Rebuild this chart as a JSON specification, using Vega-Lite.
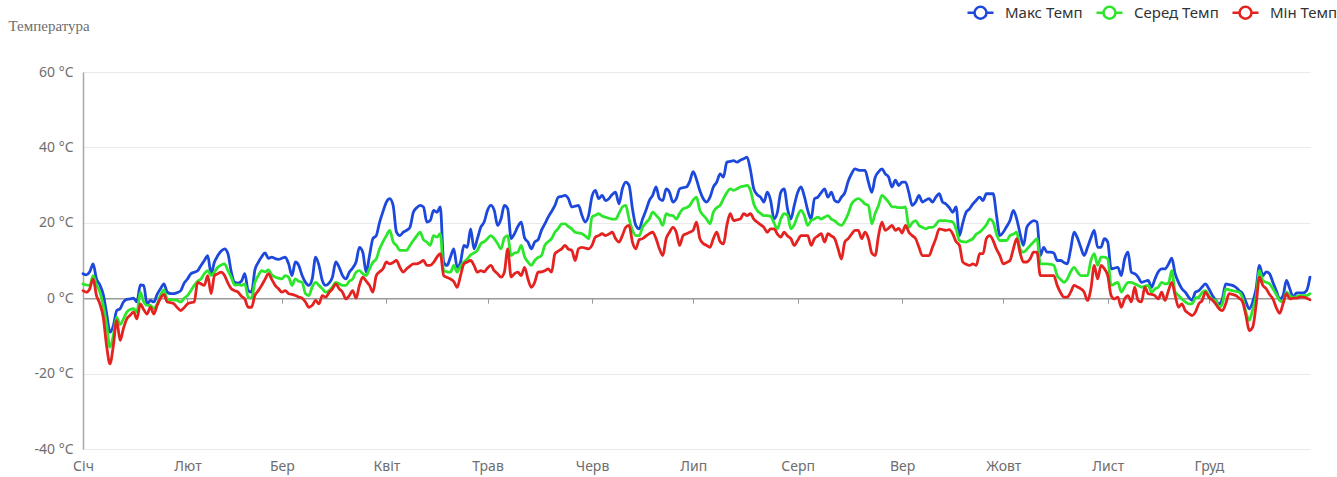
{
  "$schema": "https://vega.github.io/schema/vega-lite/v6.json",
  "width": 1227,
  "height": 377,
  "autosize": {"type": "none"},
  "padding": {"left": 83, "top": 72, "right": 27, "bottom": 28},
  "background": "#ffffff",
  "config": {
    "view": {"stroke": null},
    "font": "Noto Sans"
  },
  "data": {
    "values": [
      {"day":0,"max":6.5,"avg":3.8,"min":2},
      {"day":1,"max":6.2,"avg":3.5,"min":1.6},
      {"day":2,"max":7,"avg":3.4,"min":2.5},
      {"day":3,"max":9.1,"avg":6,"min":5.1},
      {"day":4,"max":5.1,"avg":3.5,"min":0.7},
      {"day":5,"max":3.5,"avg":1.6,"min":-1.5},
      {"day":6,"max":1,"avg":-1.9,"min":-5},
      {"day":7,"max":-4,"avg":-7,"min":-12.6},
      {"day":8,"max":-9,"avg":-13,"min":-17.4},
      {"day":9,"max":-7.3,"avg":-9.9,"min":-12.6},
      {"day":10,"max":-3.3,"avg":-5,"min":-5.9},
      {"day":11,"max":-2.8,"avg":-7,"min":-11.2},
      {"day":12,"max":-1,"avg":-5.5,"min":-8},
      {"day":13,"max":-0.3,"avg":-3.7,"min":-5.5},
      {"day":14,"max":-0.2,"avg":-3,"min":-4.5},
      {"day":15,"max":0,"avg":-2.8,"min":-3.7},
      {"day":16,"max":-1,"avg":-3.7,"min":-5.5},
      {"day":17,"max":3.5,"avg":1.6,"min":-1.5},
      {"day":18,"max":3.4,"avg":-1,"min":-3},
      {"day":19,"max":-1.5,"avg":-1.9,"min":-4.2},
      {"day":20,"max":-0.6,"avg":-1.9,"min":-2.4},
      {"day":21,"max":-1,"avg":-2.8,"min":-4.2},
      {"day":22,"max":1,"avg":-1.5,"min":-1.9},
      {"day":23,"max":2.5,"avg":0.8,"min":0},
      {"day":24,"max":3.8,"avg":2.2,"min":1},
      {"day":25,"max":1.6,"avg":-0.2,"min":-1},
      {"day":26,"max":1.2,"avg":-0.4,"min":-1.2},
      {"day":27,"max":1.2,"avg":-0.5,"min":-1.5},
      {"day":28,"max":1.5,"avg":-0.6,"min":-2.5},
      {"day":29,"max":2,"avg":-1,"min":-3.3},
      {"day":30,"max":4,"avg":0,"min":-2.5},
      {"day":31,"max":5.1,"avg":0.7,"min":-1.5},
      {"day":32,"max":6.5,"avg":2,"min":-1.2},
      {"day":33,"max":6.9,"avg":3.4,"min":-1},
      {"day":34,"max":7.3,"avg":4.5,"min":4.2},
      {"day":35,"max":8.7,"avg":5.1,"min":3.8},
      {"day":36,"max":10,"avg":6.5,"min":3.4},
      {"day":37,"max":11.3,"avg":7.3,"min":6},
      {"day":38,"max":6.5,"avg":6,"min":1.2},
      {"day":39,"max":9.6,"avg":7,"min":6},
      {"day":40,"max":11.3,"avg":8.2,"min":6.5},
      {"day":41,"max":12.5,"avg":8.8,"min":6.9},
      {"day":42,"max":13.1,"avg":9.1,"min":6},
      {"day":43,"max":11.8,"avg":7.3,"min":4},
      {"day":44,"max":6.9,"avg":5.5,"min":2.5},
      {"day":45,"max":4.2,"avg":3.5,"min":2},
      {"day":46,"max":4,"avg":3.6,"min":1.6},
      {"day":47,"max":4.5,"avg":3.4,"min":0.5},
      {"day":48,"max":6.5,"avg":3.8,"min":-0.2},
      {"day":49,"max":2,"avg":0.3,"min":-2.4},
      {"day":50,"max":1.6,"avg":0,"min":-2.4},
      {"day":51,"max":7.5,"avg":4.2,"min":0.7},
      {"day":52,"max":9.5,"avg":6,"min":2},
      {"day":53,"max":11,"avg":7.3,"min":3.4},
      {"day":54,"max":12,"avg":7,"min":5},
      {"day":55,"max":10.6,"avg":7.5,"min":6.5},
      {"day":56,"max":10.9,"avg":6.2,"min":5},
      {"day":57,"max":10.5,"avg":5.6,"min":3.4},
      {"day":58,"max":10.3,"avg":5.3,"min":2.5},
      {"day":59,"max":10.6,"avg":5.1,"min":1.6},
      {"day":60,"max":10.9,"avg":6,"min":2},
      {"day":61,"max":9.1,"avg":5.6,"min":1.2},
      {"day":62,"max":6,"avg":3.4,"min":1},
      {"day":63,"max":9.6,"avg":5.1,"min":0.7},
      {"day":64,"max":8.7,"avg":4.5,"min":0.3},
      {"day":65,"max":6,"avg":4.2,"min":0},
      {"day":66,"max":4.2,"avg":1.2,"min":-1},
      {"day":67,"max":3.4,"avg":0.7,"min":-2.4},
      {"day":68,"max":5.1,"avg":3,"min":-1.9},
      {"day":69,"max":10.9,"avg":4.2,"min":-0.6},
      {"day":70,"max":8.7,"avg":3.4,"min":-1.5},
      {"day":71,"max":4.7,"avg":2.5,"min":0.7},
      {"day":72,"max":3.4,"avg":1.6,"min":0.3},
      {"day":73,"max":4,"avg":2,"min":1.5},
      {"day":74,"max":5.6,"avg":3,"min":2.5},
      {"day":75,"max":9.6,"avg":4.2,"min":3.8},
      {"day":76,"max":8.2,"avg":3.8,"min":2.5},
      {"day":77,"max":6,"avg":3.4,"min":1.6},
      {"day":78,"max":5.1,"avg":3.4,"min":-0.2},
      {"day":79,"max":6.9,"avg":4.5,"min":0.7},
      {"day":80,"max":8,"avg":5.1,"min":2},
      {"day":81,"max":9.6,"avg":6.9,"min":0},
      {"day":82,"max":13.5,"avg":7.3,"min":3.4},
      {"day":83,"max":12.2,"avg":6.5,"min":5.6},
      {"day":84,"max":6.9,"avg":6,"min":4.5},
      {"day":85,"max":11.3,"avg":7.8,"min":3.4},
      {"day":86,"max":15.8,"avg":9.5,"min":1.6},
      {"day":87,"max":16.6,"avg":10.4,"min":6},
      {"day":88,"max":20.2,"avg":13.1,"min":7},
      {"day":89,"max":23,"avg":15,"min":7.8},
      {"day":90,"max":25.5,"avg":16.6,"min":9.6},
      {"day":91,"max":26.4,"avg":18,"min":9.1},
      {"day":92,"max":24.6,"avg":15,"min":9.5},
      {"day":93,"max":17.5,"avg":14,"min":10},
      {"day":94,"max":16.6,"avg":12.7,"min":8.2},
      {"day":95,"max":17.5,"avg":12.7,"min":6.9},
      {"day":96,"max":18,"avg":12.7,"min":7.8},
      {"day":97,"max":18.8,"avg":14,"min":8.5},
      {"day":98,"max":22.8,"avg":15.3,"min":9.1},
      {"day":99,"max":24,"avg":16.5,"min":9.1},
      {"day":100,"max":24.6,"avg":17.5,"min":9.5},
      {"day":101,"max":24.2,"avg":15.5,"min":10},
      {"day":102,"max":20.2,"avg":14.9,"min":8.7},
      {"day":103,"max":20.6,"avg":14,"min":8.7},
      {"day":104,"max":23.3,"avg":16.6,"min":9.5},
      {"day":105,"max":22.8,"avg":16.2,"min":10.9},
      {"day":106,"max":24.2,"avg":17.1,"min":11.8},
      {"day":107,"max":9.6,"avg":7.3,"min":6},
      {"day":108,"max":8.7,"avg":7,"min":5.5},
      {"day":109,"max":10.9,"avg":6.9,"min":5.1},
      {"day":110,"max":13.1,"avg":8.7,"min":4.4},
      {"day":111,"max":8.2,"avg":6.9,"min":2.9},
      {"day":112,"max":9.6,"avg":8.5,"min":6},
      {"day":113,"max":14,"avg":9.6,"min":9.1},
      {"day":114,"max":13.5,"avg":10.4,"min":9.6},
      {"day":115,"max":18.4,"avg":11.5,"min":10},
      {"day":116,"max":13.1,"avg":12,"min":8.7},
      {"day":117,"max":15.8,"avg":12.7,"min":6.9},
      {"day":118,"max":18.8,"avg":14.4,"min":7.3},
      {"day":119,"max":20.2,"avg":15,"min":7},
      {"day":120,"max":23.3,"avg":15.8,"min":8},
      {"day":121,"max":24.6,"avg":16.6,"min":8.7},
      {"day":122,"max":23.3,"avg":15.8,"min":7.3},
      {"day":123,"max":19.3,"avg":14.5,"min":6.5},
      {"day":124,"max":21,"avg":13.1,"min":5.6},
      {"day":125,"max":24.6,"avg":16,"min":6.9},
      {"day":126,"max":23.7,"avg":16.6,"min":13.1},
      {"day":127,"max":15.8,"avg":11.3,"min":5.6},
      {"day":128,"max":17.1,"avg":12,"min":6.5},
      {"day":129,"max":19,"avg":12.2,"min":6.9},
      {"day":130,"max":20.2,"avg":14,"min":6},
      {"day":131,"max":16,"avg":11,"min":8.2},
      {"day":132,"max":14.9,"avg":9.6,"min":5.1},
      {"day":133,"max":13.1,"avg":8.7,"min":2.9},
      {"day":134,"max":14.9,"avg":10,"min":4.2},
      {"day":135,"max":15.5,"avg":10.8,"min":6.9},
      {"day":136,"max":18,"avg":11.3,"min":7},
      {"day":137,"max":19.7,"avg":14,"min":7.3},
      {"day":138,"max":21.5,"avg":15,"min":7.8},
      {"day":139,"max":23,"avg":15.8,"min":6.9},
      {"day":140,"max":24.6,"avg":17.5,"min":11.8},
      {"day":141,"max":26.8,"avg":18.5,"min":12.5},
      {"day":142,"max":27,"avg":19.7,"min":13.1},
      {"day":143,"max":27.3,"avg":19.7,"min":14},
      {"day":144,"max":26.4,"avg":19,"min":13},
      {"day":145,"max":24.2,"avg":18.4,"min":12.7},
      {"day":146,"max":24.4,"avg":17.5,"min":10},
      {"day":147,"max":24.6,"avg":17.3,"min":13.1},
      {"day":148,"max":22,"avg":17.1,"min":13.5},
      {"day":149,"max":20.2,"avg":16.5,"min":13.3},
      {"day":150,"max":22,"avg":15.8,"min":13.1},
      {"day":151,"max":27,"avg":21.5,"min":14},
      {"day":152,"max":28.6,"avg":22,"min":16.2},
      {"day":153,"max":26.4,"avg":22.4,"min":16.6},
      {"day":154,"max":27.3,"avg":21.8,"min":17.1},
      {"day":155,"max":25.9,"avg":21.5,"min":16.6},
      {"day":156,"max":26.4,"avg":21.2,"min":17},
      {"day":157,"max":27.5,"avg":21,"min":17.5},
      {"day":158,"max":28.1,"avg":21,"min":15.8},
      {"day":159,"max":25,"avg":22.5,"min":14.9},
      {"day":160,"max":29,"avg":24.2,"min":16.6},
      {"day":161,"max":30.8,"avg":24.6,"min":18.8},
      {"day":162,"max":29.9,"avg":21,"min":19.3},
      {"day":163,"max":23.7,"avg":18,"min":14.9},
      {"day":164,"max":19.3,"avg":16.6,"min":13.1},
      {"day":165,"max":18.4,"avg":16.6,"min":15.5},
      {"day":166,"max":21,"avg":18.8,"min":15.8},
      {"day":167,"max":23.3,"avg":20,"min":16.5},
      {"day":168,"max":25.9,"avg":21,"min":17.1},
      {"day":169,"max":27.3,"avg":22.8,"min":17.5},
      {"day":170,"max":29.5,"avg":22,"min":15.8},
      {"day":171,"max":26.4,"avg":21,"min":13.1},
      {"day":172,"max":25.9,"avg":19.3,"min":11.3},
      {"day":173,"max":29,"avg":22.4,"min":15.8},
      {"day":174,"max":28.1,"avg":22,"min":17.5},
      {"day":175,"max":25.5,"avg":21.9,"min":18.8},
      {"day":176,"max":26.4,"avg":21,"min":17.5},
      {"day":177,"max":29,"avg":22.5,"min":14},
      {"day":178,"max":29.3,"avg":23.7,"min":16.6},
      {"day":179,"max":29.5,"avg":24,"min":17.1},
      {"day":180,"max":31,"avg":24.6,"min":17.5},
      {"day":181,"max":33.6,"avg":26,"min":18},
      {"day":182,"max":31.5,"avg":26.8,"min":20.2},
      {"day":183,"max":28.5,"avg":23.3,"min":15.8},
      {"day":184,"max":26.4,"avg":22,"min":14.5},
      {"day":185,"max":25.5,"avg":21,"min":14},
      {"day":186,"max":26.8,"avg":19.7,"min":13.5},
      {"day":187,"max":29.5,"avg":22.8,"min":15.8},
      {"day":188,"max":30.8,"avg":24,"min":17.5},
      {"day":189,"max":33,"avg":24.6,"min":15},
      {"day":190,"max":32.1,"avg":26.4,"min":14.4},
      {"day":191,"max":36.1,"avg":28,"min":19.3},
      {"day":192,"max":36.3,"avg":29,"min":22.4},
      {"day":193,"max":36.5,"avg":28.6,"min":20.6},
      {"day":194,"max":36.1,"avg":29,"min":20.8},
      {"day":195,"max":36.6,"avg":29.5,"min":21},
      {"day":196,"max":37,"avg":29.7,"min":22.4},
      {"day":197,"max":37.4,"avg":29.9,"min":21.9},
      {"day":198,"max":34,"avg":28.6,"min":22.4},
      {"day":199,"max":29,"avg":25,"min":21},
      {"day":200,"max":27.5,"avg":23.3,"min":20.2},
      {"day":201,"max":26.8,"avg":22.5,"min":19.5},
      {"day":202,"max":25.5,"avg":21.9,"min":18.8},
      {"day":203,"max":28.1,"avg":21.9,"min":17.5},
      {"day":204,"max":25.9,"avg":21.7,"min":18.4},
      {"day":205,"max":21,"avg":20,"min":18.4},
      {"day":206,"max":22.8,"avg":18.4,"min":17},
      {"day":207,"max":28.1,"avg":21,"min":16.2},
      {"day":208,"max":29,"avg":22.4,"min":17.5},
      {"day":209,"max":23.7,"avg":22,"min":16.5},
      {"day":210,"max":21,"avg":18.4,"min":15.8},
      {"day":211,"max":24.6,"avg":19.5,"min":14},
      {"day":212,"max":28,"avg":21.9,"min":15.3},
      {"day":213,"max":29.5,"avg":23.3,"min":16.6},
      {"day":214,"max":27,"avg":21.9,"min":16.6},
      {"day":215,"max":23.3,"avg":19.3,"min":16.6},
      {"day":216,"max":21,"avg":20.6,"min":14},
      {"day":217,"max":26.4,"avg":21,"min":15.8},
      {"day":218,"max":26.8,"avg":21.5,"min":16.5},
      {"day":219,"max":28,"avg":21,"min":17.1},
      {"day":220,"max":29,"avg":21.5,"min":14.9},
      {"day":221,"max":26.8,"avg":21.9,"min":17.1},
      {"day":222,"max":28.1,"avg":21,"min":16.5},
      {"day":223,"max":25.9,"avg":20.5,"min":15.8},
      {"day":224,"max":25.5,"avg":19.7,"min":13.1},
      {"day":225,"max":26.8,"avg":19.3,"min":10.4},
      {"day":226,"max":28,"avg":20.5,"min":14.9},
      {"day":227,"max":31,"avg":22.4,"min":15.8},
      {"day":228,"max":33,"avg":25,"min":17},
      {"day":229,"max":34.3,"avg":26,"min":18},
      {"day":230,"max":34,"avg":26.4,"min":18},
      {"day":231,"max":33.9,"avg":25.9,"min":15.8},
      {"day":232,"max":33.9,"avg":25,"min":17.5},
      {"day":233,"max":30.8,"avg":24.6,"min":15.8},
      {"day":234,"max":28.1,"avg":19.7,"min":12},
      {"day":235,"max":32,"avg":22.5,"min":11.3},
      {"day":236,"max":33.5,"avg":24.6,"min":16.6},
      {"day":237,"max":34.3,"avg":27.3,"min":20.2},
      {"day":238,"max":33,"avg":26.5,"min":18},
      {"day":239,"max":32.1,"avg":25.5,"min":18.6},
      {"day":240,"max":29.5,"avg":24.2,"min":19.3},
      {"day":241,"max":31.3,"avg":24.2,"min":18},
      {"day":242,"max":29.9,"avg":24,"min":18.5},
      {"day":243,"max":30.8,"avg":24,"min":17.3},
      {"day":244,"max":30.8,"avg":24.2,"min":19.3},
      {"day":245,"max":28,"avg":18.8,"min":17.5},
      {"day":246,"max":24.6,"avg":20,"min":16.6},
      {"day":247,"max":25.5,"avg":20.6,"min":15.8},
      {"day":248,"max":27.3,"avg":19.3,"min":13.5},
      {"day":249,"max":25.5,"avg":18.8,"min":11.3},
      {"day":250,"max":26,"avg":18.4,"min":11.3},
      {"day":251,"max":26.4,"avg":18.8,"min":11.3},
      {"day":252,"max":25.5,"avg":18.8,"min":13.5},
      {"day":253,"max":26.8,"avg":19.5,"min":15.8},
      {"day":254,"max":27.7,"avg":20.6,"min":18.4},
      {"day":255,"max":25.5,"avg":20.6,"min":18.2},
      {"day":256,"max":25,"avg":20.6,"min":18},
      {"day":257,"max":24,"avg":20.4,"min":18.2},
      {"day":258,"max":22.8,"avg":20.2,"min":17.1},
      {"day":259,"max":24.2,"avg":18.4,"min":15},
      {"day":260,"max":16.6,"avg":15.3,"min":14},
      {"day":261,"max":20,"avg":15,"min":9.6},
      {"day":262,"max":22.8,"avg":14.9,"min":9},
      {"day":263,"max":23.7,"avg":15.3,"min":8.7},
      {"day":264,"max":25,"avg":15.8,"min":9.1},
      {"day":265,"max":26,"avg":17,"min":8.7},
      {"day":266,"max":26.8,"avg":17.5,"min":11.8},
      {"day":267,"max":25.9,"avg":18.4,"min":11.8},
      {"day":268,"max":27.7,"avg":19.5,"min":15.8},
      {"day":269,"max":27.7,"avg":21,"min":16.6},
      {"day":270,"max":27.7,"avg":20.2,"min":15.3},
      {"day":271,"max":22,"avg":17,"min":13},
      {"day":272,"max":16.6,"avg":15.3,"min":11.3},
      {"day":273,"max":17.5,"avg":15.3,"min":9.1},
      {"day":274,"max":19,"avg":15.3,"min":9.5},
      {"day":275,"max":20.6,"avg":16.6,"min":10},
      {"day":276,"max":23.3,"avg":17,"min":13.1},
      {"day":277,"max":21,"avg":17.5,"min":15.8},
      {"day":278,"max":17.1,"avg":13.1,"min":12},
      {"day":279,"max":14,"avg":12.2,"min":9.6},
      {"day":280,"max":18.8,"avg":13,"min":9.6},
      {"day":281,"max":20,"avg":14,"min":10.5},
      {"day":282,"max":20.6,"avg":14.9,"min":12.2},
      {"day":283,"max":20.2,"avg":15.8,"min":12.2},
      {"day":284,"max":11.3,"avg":9.1,"min":6},
      {"day":285,"max":13.5,"avg":9.1,"min":6},
      {"day":286,"max":12.2,"avg":9.1,"min":6},
      {"day":287,"max":12.2,"avg":9,"min":6},
      {"day":288,"max":12,"avg":8.7,"min":6},
      {"day":289,"max":10,"avg":6,"min":3.4},
      {"day":290,"max":10,"avg":5,"min":1.5},
      {"day":291,"max":9.5,"avg":4.2,"min":0.3},
      {"day":292,"max":9.1,"avg":5.1,"min":0.3},
      {"day":293,"max":13,"avg":7,"min":1.6},
      {"day":294,"max":17.5,"avg":8.2,"min":3.4},
      {"day":295,"max":16,"avg":7,"min":3},
      {"day":296,"max":13.5,"avg":6,"min":2.5},
      {"day":297,"max":11.3,"avg":6,"min":1.6},
      {"day":298,"max":13.5,"avg":6,"min":-0.6},
      {"day":299,"max":16,"avg":10,"min":2.5},
      {"day":300,"max":18,"avg":11.8,"min":8.7},
      {"day":301,"max":13.5,"avg":8.7,"min":5.1},
      {"day":302,"max":13.5,"avg":10.9,"min":8.7},
      {"day":303,"max":15.8,"avg":10.9,"min":7.8},
      {"day":304,"max":14.9,"avg":10.4,"min":6},
      {"day":305,"max":7.8,"avg":3.4,"min":0.7},
      {"day":306,"max":8,"avg":3.8,"min":-0.2},
      {"day":307,"max":8.2,"avg":4.2,"min":0.3},
      {"day":308,"max":6,"avg":1.6,"min":-2.4},
      {"day":309,"max":10.4,"avg":3,"min":-0.2},
      {"day":310,"max":12.2,"avg":4.2,"min":0.7},
      {"day":311,"max":6.9,"avg":4.2,"min":-1},
      {"day":312,"max":6.5,"avg":3.8,"min":2.9},
      {"day":313,"max":5.6,"avg":3.4,"min":-0.6},
      {"day":314,"max":4.2,"avg":2.9,"min":-1},
      {"day":315,"max":4.5,"avg":3.2,"min":2.9},
      {"day":316,"max":4.7,"avg":3.4,"min":1.2},
      {"day":317,"max":2.9,"avg":1.6,"min":1},
      {"day":318,"max":5.1,"avg":2.5,"min":0.7},
      {"day":319,"max":7,"avg":2.9,"min":-0.2},
      {"day":320,"max":7.8,"avg":4.2,"min":1.6},
      {"day":321,"max":7.8,"avg":3.8,"min":-0.6},
      {"day":322,"max":9,"avg":4,"min":2},
      {"day":323,"max":10.6,"avg":7.3,"min":4.2},
      {"day":324,"max":6.5,"avg":1.6,"min":0.7},
      {"day":325,"max":4.2,"avg":0.7,"min":-2.4},
      {"day":326,"max":2.5,"avg":-0.2,"min":-1.5},
      {"day":327,"max":1.6,"avg":-1,"min":-3.3},
      {"day":328,"max":0.3,"avg":-1.5,"min":-4},
      {"day":329,"max":-0.6,"avg":-1.5,"min":-4.6},
      {"day":330,"max":1.6,"avg":0,"min":-3.7},
      {"day":331,"max":2,"avg":0.3,"min":-1.5},
      {"day":332,"max":3,"avg":1.5,"min":-0.6},
      {"day":333,"max":3.8,"avg":2,"min":1.6},
      {"day":334,"max":2.5,"avg":0.7,"min":0.2},
      {"day":335,"max":0.8,"avg":-0.3,"min":-0.5},
      {"day":336,"max":-0.5,"avg":-0.6,"min":-1.5},
      {"day":337,"max":-1.5,"avg":-2.4,"min":-2.8},
      {"day":338,"max":-0.2,"avg":-1.5,"min":-3.3},
      {"day":339,"max":3.8,"avg":2.5,"min":-1.5},
      {"day":340,"max":3.6,"avg":2.2,"min":1.2},
      {"day":341,"max":3.4,"avg":2,"min":1},
      {"day":342,"max":2.9,"avg":1.8,"min":0.7},
      {"day":343,"max":2,"avg":1.6,"min":0},
      {"day":344,"max":1.2,"avg":0,"min":-1},
      {"day":345,"max":-1,"avg":-3.7,"min":-4.6},
      {"day":346,"max":-2.8,"avg":-5.9,"min":-8.6},
      {"day":347,"max":-1,"avg":-3,"min":-7.7},
      {"day":348,"max":2.5,"avg":0.3,"min":-1.9},
      {"day":349,"max":8.7,"avg":7.3,"min":5.6},
      {"day":350,"max":6,"avg":4.7,"min":3.4},
      {"day":351,"max":7,"avg":4.2,"min":2.5},
      {"day":352,"max":6.5,"avg":3.8,"min":1},
      {"day":353,"max":4.2,"avg":2.5,"min":-0.2},
      {"day":354,"max":2,"avg":1,"min":-2.5},
      {"day":355,"max":-0.2,"avg":-0.6,"min":-4},
      {"day":356,"max":0.7,"avg":-1,"min":-1.5},
      {"day":357,"max":4.7,"avg":1.6,"min":1.2},
      {"day":358,"max":2.5,"avg":0.7,"min":-0.2},
      {"day":359,"max":0.3,"avg":0.2,"min":0},
      {"day":360,"max":1.4,"avg":0.4,"min":0},
      {"day":361,"max":1.4,"avg":0.7,"min":0.3},
      {"day":362,"max":1.4,"avg":0.7,"min":0.3},
      {"day":363,"max":2,"avg":0.7,"min":0},
      {"day":364,"max":5.6,"avg":1.2,"min":-0.4}
    ]
  },
  "transform": [
    {"fold": ["max", "avg", "min"], "as": ["series", "temp"]}
  ],
  "mark": {
    "type": "line",
    "interpolate": "monotone",
    "strokeWidth": 2.8,
    "strokeJoin": "round",
    "strokeCap": "round"
  },
  "encoding": {
    "x": {
      "field": "day",
      "type": "quantitative",
      "scale": {"domain": [0, 364], "nice": false, "zero": false},
      "axis": {
        "title": null,
        "offset": -150.8,
        "values": [0, 31, 59, 90, 120, 151, 181, 212, 243, 273, 304, 334],
        "labelExpr": "['Січ','Лют','Бер','Квіт','Трав','Черв','Лип','Серп','Вер','Жовт','Лист','Груд'][indexof([0,31,59,90,120,151,181,212,243,273,304,334], datum.value)]",
        "grid": false,
        "domainColor": "#9a9a9a",
        "domainWidth": 1.5,
        "tickColor": "#9a9a9a",
        "tickWidth": 1,
        "tickSize": 5,
        "labelPadding": 156,
        "labelFlush": false,
        "labelOverlap": false,
        "labelFontSize": 14,
        "labelColor": "#6e6e6e"
      }
    },
    "y": {
      "field": "temp",
      "type": "quantitative",
      "scale": {"domain": [-40, 60], "nice": false},
      "axis": {
        "values": [-40, -20, 0, 20, 40, 60],
        "labelExpr": "datum.value + ' °C'",
        "ticks": false,
        "domainColor": "#a8a8a8",
        "domainWidth": 1.5,
        "gridColor": "#e9e9e9",
        "gridWidth": 1,
        "labelPadding": 10,
        "labelFontSize": 14,
        "labelColor": "#6e6e6e",
        "title": "Температура",
        "titleAngle": 0,
        "titleX": -75,
        "titleY": -47,
        "titleAlign": "left",
        "titleBaseline": "middle",
        "titleFont": "Liberation Serif",
        "titleFontWeight": "normal",
        "titleFontSize": 15,
        "titleColor": "#6e6e6e"
      }
    },
    "color": {
      "field": "series",
      "type": "nominal",
      "scale": {
        "domain": ["max", "avg", "min"],
        "range": ["#1c48dc", "#2ce62c", "#e42220"]
      },
      "legend": {
        "title": null,
        "orient": "none",
        "direction": "horizontal",
        "columns": 3,
        "legendX": 883,
        "legendY": -74,
        "labelExpr": "datum.label == 'max' ? 'Макс Темп' : datum.label == 'avg' ? 'Серед Темп' : 'Мін Темп'",
        "symbolType": "M-1,0H-0.46M0.46,0H1M0.46,0A0.46,0.46,0,1,1,-0.46,0A0.46,0.46,0,1,1,0.46,0",
        "symbolSize": 676,
        "symbolStrokeWidth": 2.5,
        "symbolFillColor": "#ffffff",
        "labelFontSize": 15,
        "labelColor": "#333333",
        "labelOffset": 10,
        "columnPadding": 8
      }
    }
  }
}
